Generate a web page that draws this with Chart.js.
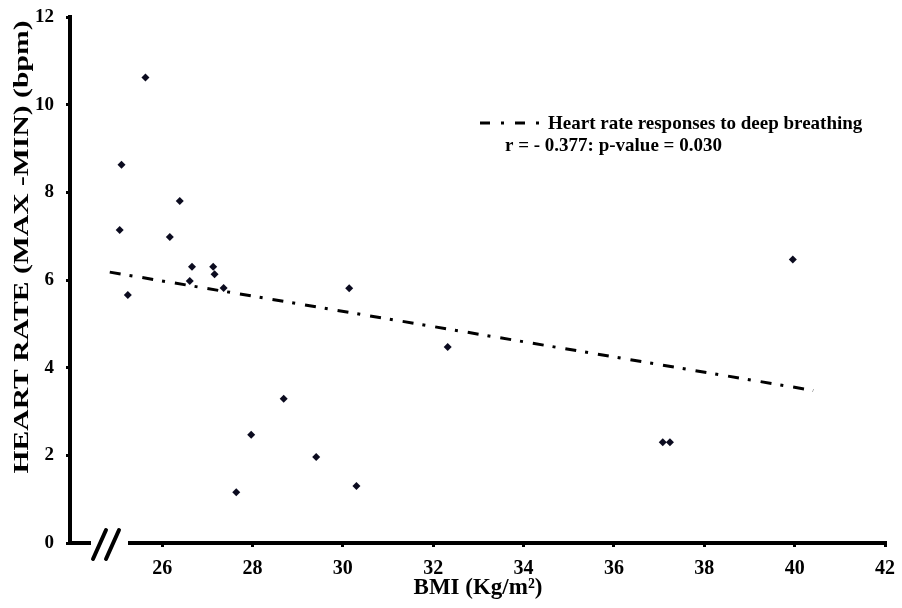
<!DOCTYPE html>
<html>
<head>
<meta charset="utf-8">
<script src="https://cdn.jsdelivr.net/npm/chart.js@4.4.1/dist/chart.umd.min.js"></script>
<style>
  html, body { margin: 0; padding: 0; background: #fff; }
  #wrap { width: 902px; height: 608px; }
</style>
</head>
<body>
<div id="wrap"><canvas id="myChart"></canvas></div>
<script>
// values
const xTicks = [26, 28, 30, 32, 34, 36, 38, 40, 42];
const yTicks = [0, 2, 4, 6, 8, 10, 12];

const bmi = [25.63, 25.10, 26.39, 25.06, 26.17, 26.66, 27.13, 27.16, 26.61, 27.36, 25.24,
             30.14, 28.69, 27.97, 29.41, 27.64, 30.30, 32.32, 37.08, 37.24, 39.96];
const hrDiff = [10.62, 8.63, 7.80, 7.14, 6.98, 6.30, 6.30, 6.13, 5.98, 5.82, 5.66,
                5.81, 3.29, 2.47, 1.96, 1.16, 1.30, 4.47, 2.30, 2.30, 6.47];

const trendBmi = [24.84, 40.41];
const trendHr = [6.18, 3.48];

const legendLines = ['Heart rate responses to deep breathing', 'r = - 0.377: p-value = 0.030'];
const xTitle = 'BMI (Kg/m\u00B2)';
const yTitle = 'HEART RATE (MAX -MIN) (bpm)';

const serif = '"Liberation Serif", "Times New Roman", serif';

const extras = {
  id: 'extras',
  afterDraw(chart) {
    const ctx = chart.ctx;
    const ys = chart.scales.y;
    const y0 = ys.getPixelForValue(0);
    ctx.save();
    // axis break
    ctx.fillStyle = '#fff';
    ctx.fillRect(91, y0 - 5, 37, 10);
    ctx.strokeStyle = '#000';
    ctx.lineWidth = 4;
    ctx.lineCap = 'round';
    ctx.beginPath();
    ctx.moveTo(93, 559); ctx.lineTo(106, 530);
    ctx.moveTo(106, 559); ctx.lineTo(119, 530);
    ctx.stroke();

    // legend
    ctx.lineCap = 'butt';
    ctx.lineWidth = 3;
    ctx.setLineDash([10, 11, 3, 11]);
    ctx.beginPath();
    ctx.moveTo(480, 123); ctx.lineTo(542, 123);
    ctx.stroke();
    ctx.setLineDash([]);
    ctx.fillStyle = '#000';
    ctx.font = 'bold 19px ' + serif;
    ctx.textBaseline = 'middle';
    ctx.textAlign = 'left';
    ctx.fillText(legendLines[0], 548, 124);
    ctx.fillText(legendLines[1], 505, 146);

    // axis titles
    ctx.font = 'bold 23px ' + serif;
    ctx.textAlign = 'center';
    ctx.fillText(xTitle, 478, 588);

    ctx.translate(22, 247);
    ctx.rotate(-Math.PI / 2);
    ctx.font = 'bold 22px ' + serif;
    const w = ctx.measureText(yTitle).width;
    ctx.scale(453 / w, 1);
    ctx.fillText(yTitle, 0, 0);
    ctx.restore();
  }
};

new Chart(document.getElementById('myChart'), {
  type: 'scatter',
  data: {
    datasets: [
      {
        label: 'HR',
        data: bmi.map((v, i) => ({ x: v, y: hrDiff[i] })),
        pointStyle: 'rectRot',
        pointRadius: 4,
        backgroundColor: '#0b0b1f',
        borderColor: '#0b0b1f',
        borderWidth: 0
      },
      {
        label: 'trend',
        type: 'line',
        data: trendBmi.map((v, i) => ({ x: v, y: trendHr[i] })),
        borderColor: '#000',
        borderWidth: 3,
        borderDash: [11, 9, 3, 10],
        pointRadius: 0,
        fill: false
      }
    ]
  },
  options: {
    responsive: true,
    maintainAspectRatio: false,
    animation: false,
    layout: { padding: { top: 17, right: 17, left: 0, bottom: 0 } },
    plugins: { legend: { display: false }, tooltip: { enabled: false } },
    scales: {
      x: {
        type: 'linear',
        min: 23.96,
        max: 42,
        afterBuildTicks: s => { s.ticks = xTicks.map(v => ({ value: v })); },
        afterFit: s => { s.height = 65; s.paddingLeft = 0; s.paddingRight = 0; },
        border: { display: true, color: '#000', width: 4 },
        grid: { display: true, drawOnChartArea: false, drawTicks: true, tickLength: 4, color: '#000', lineWidth: 3 },
        ticks: { color: '#000', padding: 10, font: { family: serif, size: 20, weight: 'bold' } }
      },
      y: {
        min: 0,
        max: 12,
        afterBuildTicks: s => { s.ticks = yTicks.map(v => ({ value: v })); },
        afterFit: s => { s.width = 70; s.paddingTop = 0; s.paddingBottom = 0; },
        border: { display: true, color: '#000', width: 4 },
        grid: { display: true, drawOnChartArea: false, drawTicks: true, tickLength: 4, color: '#000', lineWidth: 3 },
        ticks: { color: '#000', padding: 12, font: { family: serif, size: 19, weight: 'bold' } }
      }
    }
  },
  plugins: [extras]
});
</script>
</body>
</html>
